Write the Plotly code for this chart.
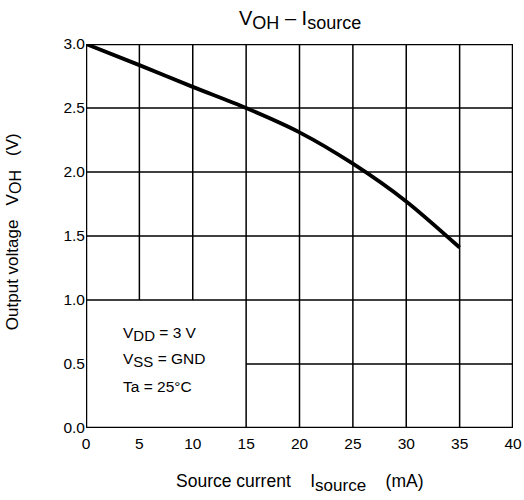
import plotly.graph_objects as go

# Data
isource = [0, 5, 10, 15, 20, 25, 30, 35]
voh = [3.0, 2.835, 2.665, 2.5, 2.31, 2.065, 1.77, 1.41]

x_ticks = [0, 5, 10, 15, 20, 25, 30, 35, 40]
y_ticks = [0.0, 0.5, 1.0, 1.5, 2.0, 2.5, 3.0]
y_labels = ["0.0", "0.5", "1.0", "1.5", "2.0", "2.5", "3.0"]

conditions = ["V<sub><span style='font-size:15px'>DD</span></sub> = 3 V",
              "V<sub><span style='font-size:15px'>SS</span></sub> = GND",
              "Ta = 25°C"]

FONT = "Liberation Sans, Arial, sans-serif"

fig = go.Figure()

# Grid (partial, leaving a blank box for the conditions)
shapes = []
for xv in [5, 10]:
    shapes.append(dict(type="line", xref="x", yref="y", x0=xv, x1=xv, y0=1.0, y1=3.0,
                       line=dict(color="black", width=1.5), layer="below"))
for xv in [15, 20, 25, 30, 35]:
    shapes.append(dict(type="line", xref="x", yref="y", x0=xv, x1=xv, y0=0.0, y1=3.0,
                       line=dict(color="black", width=1.5), layer="below"))
for yv in [1.0, 1.5, 2.0, 2.5]:
    shapes.append(dict(type="line", xref="x", yref="y", x0=0, x1=40, y0=yv, y1=yv,
                       line=dict(color="black", width=1.5), layer="below"))
shapes.append(dict(type="line", xref="x", yref="y", x0=15, x1=40, y0=0.5, y1=0.5,
                   line=dict(color="black", width=1.5), layer="below"))
# Frame
shapes.append(dict(type="rect", xref="x", yref="y", x0=0, x1=40, y0=0, y1=3.0,
                   line=dict(color="black", width=2.5), layer="above"))

fig.add_trace(go.Scatter(x=isource, y=voh, mode="lines",
                         line=dict(color="black", width=3.8, shape="spline", smoothing=0.8),
                         showlegend=False, hoverinfo="skip"))

annotations = []
for i, t in enumerate(conditions):
    annotations.append(dict(text=t, xref="x", yref="y", x=3.3, y=0.735 - i * 0.205,
                            xanchor="left", yanchor="middle", showarrow=False,
                            font=dict(family=FONT, size=15.5, color="black")))

annotations.append(dict(text="V<sub><span style='font-size:18px'>OH</span></sub> – I<sub><span style='font-size:18px'>source</span></sub>",
                        xref="paper", yref="paper",
                        x=0.5, y=1.0, yshift=24, xanchor="center", yanchor="middle",
                        showarrow=False, font=dict(family=FONT, size=20, color="black")))
annotations.append(dict(text="Source current    I<sub><span style='font-size:17px'>source</span></sub>    (mA)",
                        xref="paper", yref="paper",
                        x=0.5, y=0, yshift=-55, xanchor="center", yanchor="middle",
                        showarrow=False, font=dict(family=FONT, size=17.5, color="black")))
annotations.append(dict(text="Output voltage   V<sub><span style='font-size:16px'>OH</span></sub>   (V)",
                        xref="paper", yref="paper",
                        x=0, xshift=-72, y=0.51, xanchor="center", yanchor="middle", textangle=-90,
                        showarrow=False, font=dict(family=FONT, size=17, color="black")))

fig.update_layout(
    width=524, height=500,
    margin=dict(l=86, r=11, t=44, b=72, autoexpand=False),
    paper_bgcolor="white", plot_bgcolor="white",
    shapes=shapes, annotations=annotations,
    font=dict(family=FONT, size=15, color="black"),
    xaxis=dict(range=[0, 40], tickvals=x_ticks, showgrid=False, zeroline=False,
               showline=False, ticks="", tickfont=dict(size=15.5), fixedrange=True,
               automargin=False, ticklabelstandoff=4),
    yaxis=dict(range=[0, 3.0], tickvals=y_ticks, ticktext=y_labels, showgrid=False,
               zeroline=False, showline=False, ticks="", tickfont=dict(size=15.5), fixedrange=True,
               automargin=False, ticklabelstandoff=0),
)

fig.write_html("out.html", config={"displayModeBar": False},
               post_script="document.body.style.margin='0';")
